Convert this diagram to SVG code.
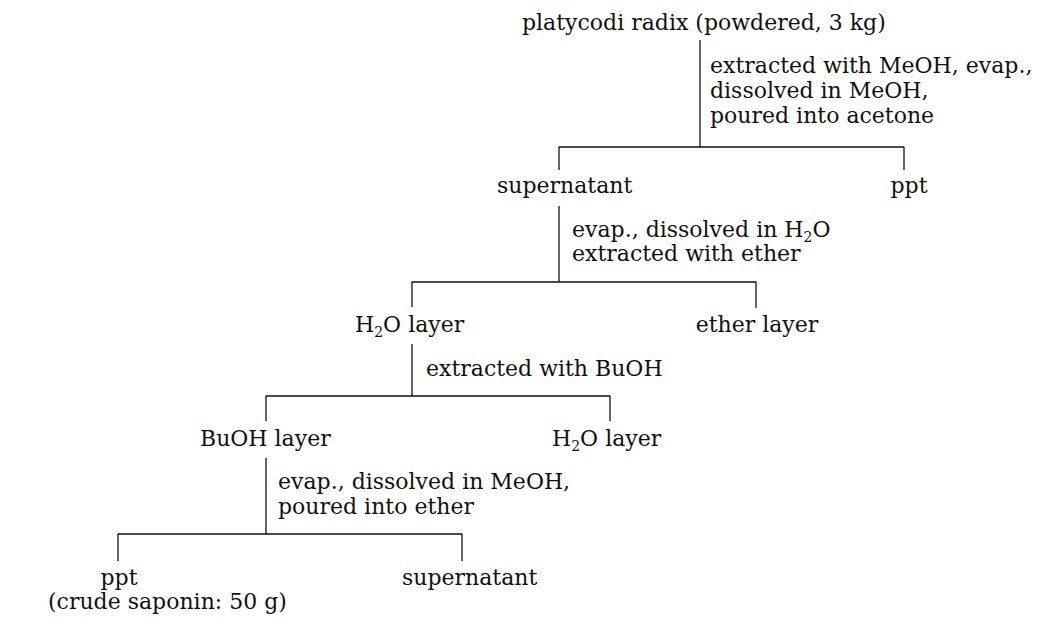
<svg xmlns="http://www.w3.org/2000/svg" width="1053" height="621" viewBox="0 0 1053 621">
<style>
text{font-family:"DejaVu Serif","Liberation Serif",serif;font-size:22px;fill:#111}
.m{text-anchor:middle}
.sub{font-size:14px}
line{stroke:#111;stroke-width:1.3}
</style>
<rect width="1053" height="621" fill="#fff"/>
<g id="connectors">
<line x1="700" y1="40" x2="700" y2="147"/>
<line x1="559" y1="147" x2="904" y2="147"/>
<line x1="559" y1="147" x2="559" y2="170"/>
<line x1="904" y1="147" x2="904" y2="170"/>
<line x1="559" y1="206" x2="559" y2="282"/>
<line x1="412" y1="282" x2="756" y2="282"/>
<line x1="412" y1="282" x2="412" y2="307"/>
<line x1="756" y1="282" x2="756" y2="308"/>
<line x1="412" y1="344" x2="412" y2="396"/>
<line x1="266" y1="396" x2="610" y2="396"/>
<line x1="266" y1="396" x2="266" y2="421"/>
<line x1="610" y1="396" x2="610" y2="421"/>
<line x1="266" y1="458" x2="266" y2="534"/>
<line x1="118" y1="534" x2="462" y2="534"/>
<line x1="118" y1="534" x2="118" y2="561"/>
<line x1="462" y1="534" x2="462" y2="561"/>
</g>
<g id="n-start"><text x="522" y="30">platycodi radix (powdered, 3 kg)</text></g>
<g id="step1"><text x="710" y="73">extracted with MeOH, evap.,</text><text x="710" y="98">dissolved in MeOH,</text><text x="710" y="123">poured into acetone</text></g>
<g id="n-supernatant1"><text x="497" y="193">supernatant</text></g>
<g id="n-ppt1"><text class="m" x="909" y="193">ppt</text></g>
<g id="step2"><text x="572" y="237">evap., dissolved in H<tspan class="sub" dy="5">2</tspan><tspan dy="-5">O</tspan></text><text x="572" y="261">extracted with ether</text></g>
<g id="n-h2o1"><text x="355" y="332">H<tspan class="sub" dy="5">2</tspan><tspan dy="-5">O layer</tspan></text></g>
<g id="n-ether"><text class="m" x="757" y="332">ether layer</text></g>
<g id="step3"><text x="426" y="376">extracted with BuOH</text></g>
<g id="n-buoh"><text x="200" y="446">BuOH layer</text></g>
<g id="n-h2o2"><text x="552" y="446">H<tspan class="sub" dy="5">2</tspan><tspan dy="-5">O layer</tspan></text></g>
<g id="step4"><text x="278" y="489">evap., dissolved in MeOH,</text><text x="278" y="514">poured into ether</text></g>
<g id="n-ppt2"><text class="m" x="119" y="585">ppt</text><text x="48" y="609">(crude saponin: 50 g)</text></g>
<g id="n-supernatant2"><text x="402" y="585">supernatant</text></g>
</svg>
